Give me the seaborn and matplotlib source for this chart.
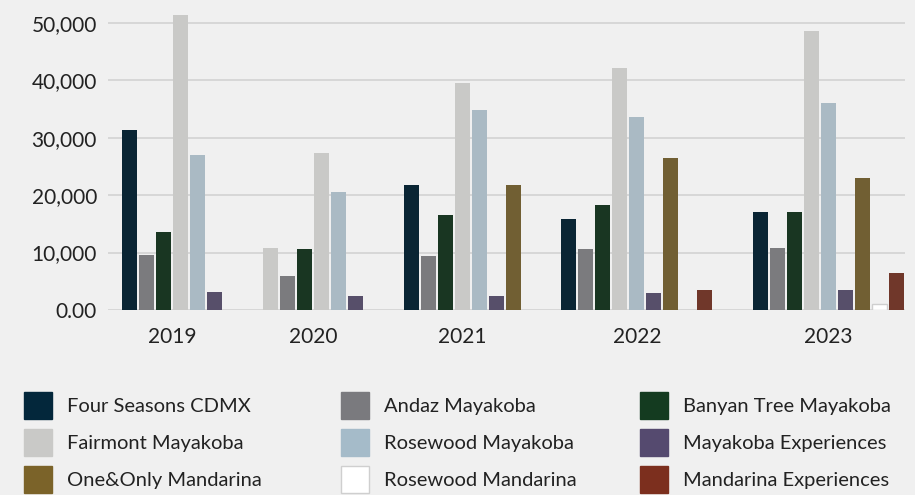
import matplotlib
matplotlib.use("Agg")
import matplotlib.pyplot as plt
from matplotlib.patches import Patch
from matplotlib.ticker import FuncFormatter
import pandas as pd
import seaborn as sns

# chart data (None = no bar for that hotel in that year)
years = ["2019", "2020", "2021", "2022", "2023"]
hotels = ["Four Seasons CDMX", "Andaz Mayakoba", "Banyan Tree Mayakoba",
          "Fairmont Mayakoba", "Rosewood Mayakoba", "Mayakoba Experiences",
          "One&Only Mandarina", "Rosewood Mandarina", "Mandarina Experiences"]
four_seasons = [31300, 10800, 21800, 15900, 17100]
andaz = [9600, 5900, 9400, 10600, 10800]
banyan_tree = [13600, 10600, 16500, 18300, 17100]
fairmont = [51400, 27300, 39500, 42200, 48600]
rosewood_mayakoba = [27000, 20500, 34800, 33600, 36100]
mayakoba_exp = [3100, 2400, 2400, 3000, 3500]
one_and_only = [None, None, 21800, 26500, 23000]
rosewood_mandarina = [None, None, None, 0, 1000]
mandarina_exp = [None, None, None, 3500, 6400]

colors = ["#03273b", "#7a7a7e", "#143b20", "#c9c9c7", "#a5bbc9",
          "#554a6f", "#7b6329", "#ffffff", "#7c2f1e"]

series = [four_seasons, andaz, banyan_tree, fairmont, rosewood_mayakoba,
          mayakoba_exp, one_and_only, rosewood_mandarina, mandarina_exp]

# lay bars out one after another, skipping empty ones, with a gap between years
group_gap = 2.28
rows = []
centers = []
pos = 0.0
for yi, yr in enumerate(years):
    start = pos
    for hi, h in enumerate(hotels):
        v = series[hi][yi]
        if v is None:
            continue
        rows.append({"year": yr, "hotel": h, "value": v, "pos": pos})
        pos += 1
    centers.append((start + pos - 1) / 2)
    pos += group_gap
df = pd.DataFrame(rows)

bg = "#f0f0f0"
sns.set_style("white")
plt.rcParams["font.family"] = ["Lato", "DejaVu Sans"]

fig = plt.figure(figsize=(9.15, 4.95), dpi=100, facecolor=bg)
ax = fig.add_axes([108 / 915, 1 - 310 / 495, (905 - 108) / 915, 310 / 495])
ax.set_facecolor(bg)

sns.barplot(data=df, x="pos", y="value", hue="hotel", hue_order=hotels,
            palette=colors, native_scale=True, dodge=False, width=15 / 17,
            errorbar=None, legend=False, linewidth=0, ax=ax)

# white bars need an outline; 2020 first bar is drawn light grey in the source
for p in ax.patches:
    fc = matplotlib.colors.to_hex(p.get_facecolor())
    if fc == "#ffffff":
        p.set_edgecolor("#cfcfcf")
        p.set_linewidth(1.0)
    cx = p.get_x() + p.get_width() / 2
    if abs(cx - (centers[1] - 2.5)) < 0.1:
        p.set_facecolor(colors[3])

ax.set_ylim(0, 54000)
ax.set_xlim(-1.27, pos - group_gap - 1 + 0.5)
ax.set_yticks([0, 10000, 20000, 30000, 40000, 50000])
ax.yaxis.set_major_formatter(FuncFormatter(lambda v, _: "0.00" if v == 0 else f"{int(v):,}"))
ax.set_xticks(centers)
ax.set_xticklabels(years)
ax.set_xlabel("")
ax.set_ylabel("")
ax.tick_params(axis="both", length=0, labelsize=15, colors="#222222")
ax.tick_params(axis="y", pad=8)
ax.tick_params(axis="x", pad=12)
ax.yaxis.grid(True, color="#d2d2d2", linewidth=1.2)
ax.set_axisbelow(True)
for s in ax.spines.values():
    s.set_visible(False)

# legend: three columns placed by hand
col_x = [24 / 915, 341 / 915, 640 / 915]
for c in range(3):
    handles = []
    for r in range(3):
        i = r * 3 + c
        ec = "#cfcfcf" if colors[i] == "#ffffff" else colors[i]
        handles.append(Patch(facecolor=colors[i], edgecolor=ec, linewidth=1, label=hotels[i]))
    fig.legend(handles=handles, loc="upper left", bbox_to_anchor=(col_x[c], 1 - 392 / 495),
               frameon=False, fontsize=14.5, handlelength=1.39, handleheight=1.69,
               handletextpad=0.75, labelspacing=0.5, borderpad=0, borderaxespad=0,
               labelcolor="#222222")

fig.savefig("out.png", dpi=100, facecolor=bg)
